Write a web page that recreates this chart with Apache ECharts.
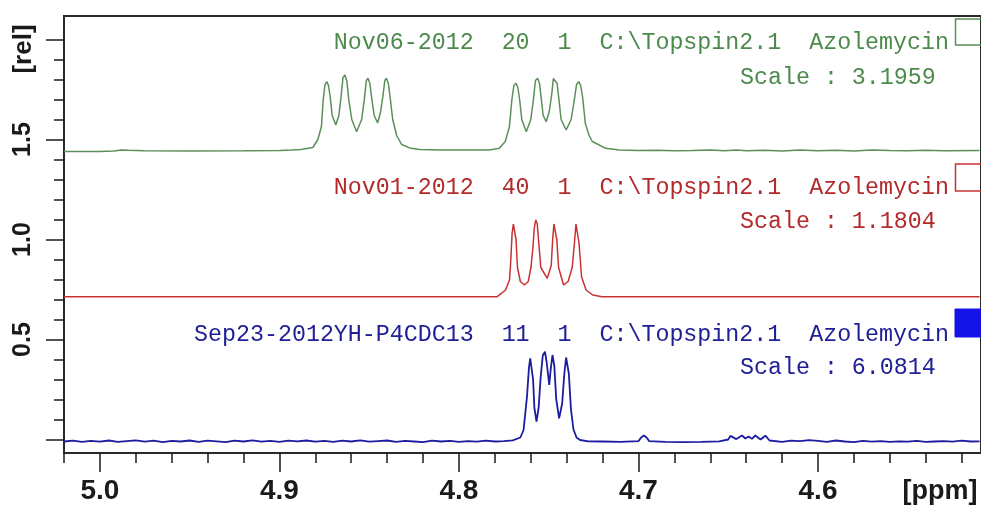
<!DOCTYPE html>
<html><head><meta charset="utf-8">
<script src="https://cdn.jsdelivr.net/npm/echarts@6/dist/echarts.min.js"></script>
<style>html,body{margin:0;padding:0;background:#fff}#c{width:981px;height:506px}</style>
</head><body><div id="c"></div>
<script>
// ---- tick values ----
const xMajorTicks = [5.0, 4.9, 4.8, 4.7, 4.6];
const xMinorTicks = [5.02, 4.98, 4.96, 4.94, 4.92, 4.88, 4.86, 4.84, 4.82, 4.78, 4.76, 4.74, 4.72, 4.68, 4.66, 4.64, 4.62, 4.58, 4.56, 4.54, 4.52];
const yMajorTicks = [0, 0.5, 1.0, 1.5, 2.0];
const yLabelValues = [0.5, 1.0, 1.5];
const yMinorTicks = [0.1, 0.2, 0.3, 0.4, 0.6, 0.7, 0.8, 0.9, 1.1, 1.2, 1.3, 1.4, 1.6, 1.7, 1.8, 1.9];
const xAxisName = '[ppm]';
const yAxisName = '[rel]';

// ---- spectra [ppm, rel] ----
const greenSpectrum = [
 [5.02,1.44],[5.0,1.44],[4.992,1.442],[4.988,1.448],[4.984,1.446],[4.975,1.444],[4.95,1.443],[4.92,1.444],[4.90,1.445],[4.893,1.447],[4.888,1.45],
 [4.8814,1.46],[4.8786,1.5],[4.8766,1.565],[4.8756,1.7],[4.8746,1.775],[4.8735,1.789],[4.8727,1.77],[4.8718,1.72],[4.8706,1.62],[4.8686,1.5725],[4.8669,1.62],[4.8656,1.72],
 [4.8646,1.81],[4.8635,1.8225],[4.8624,1.79],[4.8614,1.7],[4.8597,1.6],[4.857,1.539],[4.8542,1.6],[4.8527,1.7],[4.8516,1.795],[4.8507,1.806],[4.8496,1.78],[4.8485,1.7],[4.8472,1.62],[4.8453,1.5825],
 [4.8436,1.64],[4.8423,1.72],[4.8413,1.795],[4.8404,1.806],[4.8393,1.78],[4.8382,1.7],[4.8369,1.6],[4.8347,1.52],[4.8319,1.475],[4.8275,1.458],[4.8219,1.45],[4.81,1.447],
 [4.79,1.447],[4.7831,1.448],[4.7775,1.456],[4.7742,1.49],[4.7719,1.564],[4.7705,1.7],[4.7694,1.77],[4.7682,1.781],[4.7672,1.76],[4.7662,1.7],[4.765,1.6],[4.7625,1.539],
 [4.76,1.6],[4.7585,1.7],[4.7574,1.795],[4.7562,1.806],[4.7551,1.78],[4.7541,1.7],[4.7531,1.62],[4.7514,1.589],[4.7497,1.64],[4.7484,1.72],[4.7474,1.805],[4.7464,1.814],[4.7453,1.78],[4.7443,1.7],
 [4.7431,1.6],[4.7403,1.5475],[4.7375,1.6],[4.7357,1.7],[4.7345,1.775],[4.7333,1.789],[4.7322,1.77],[4.7311,1.71],[4.7296,1.58],[4.7275,1.52],[4.7257,1.49],[4.7182,1.456],[4.7108,1.447],
 [4.70,1.445],[4.69,1.446],[4.68,1.444],[4.67,1.445],[4.66,1.447],[4.652,1.444],[4.645,1.448],[4.64,1.444],[4.63,1.446],[4.62,1.443],[4.61,1.447],
 [4.60,1.444],[4.59,1.446],[4.58,1.443],[4.57,1.447],[4.56,1.445],[4.55,1.444],[4.54,1.446],[4.53,1.444],[4.51,1.445]
];
const redSpectrum = [
 [5.02,0.714],[4.78,0.714],[4.7787,0.714],[4.774,0.7475],[4.7718,0.8],[4.7711,0.9],[4.7704,1.03],[4.7697,1.0775],[4.7689,1.0775],[4.7682,1.0],[4.7674,0.86],[4.7658,0.79],
 [4.7636,0.7725],[4.7614,0.79],[4.7599,0.86],[4.7588,0.96],[4.7580,1.06],[4.7572,1.0975],[4.7564,1.08],[4.7556,0.99],[4.7544,0.86],[4.7508,0.806],[4.7486,0.87],[4.7478,1.0],
 [4.7471,1.0775],[4.7462,1.0775],[4.7455,1.0],[4.7445,0.86],[4.7417,0.7725],[4.7392,0.79],[4.7369,0.86],[4.7357,0.98],[4.7348,1.0775],[4.7339,1.0775],[4.7331,0.981],[4.7317,0.814],
 [4.7292,0.7475],[4.7255,0.7225],[4.7203,0.714],[4.51,0.714]
];
const blueSpectrum = [
 [5.02,-0.01],[5.015,-0.006],[5.01,-0.012],[5.005,-0.007],[5.0,-0.011],[4.995,-0.005],[4.99,-0.012],[4.985,-0.008],[4.98,-0.004],[4.975,-0.011],
 [4.97,-0.006],[4.965,-0.013],[4.96,-0.007],[4.955,-0.01],[4.95,-0.005],[4.945,-0.012],[4.94,-0.006],[4.935,-0.009],[4.93,-0.013],[4.925,-0.006],
 [4.92,-0.01],[4.915,-0.004],[4.91,-0.011],[4.905,-0.007],[4.9,-0.012],[4.895,-0.006],[4.89,-0.009],[4.885,-0.005],[4.88,-0.011],[4.875,-0.007],
 [4.87,-0.012],[4.865,-0.006],[4.86,-0.01],[4.855,-0.004],[4.85,-0.011],[4.845,-0.008],[4.84,-0.005],[4.835,-0.012],[4.83,-0.007],[4.825,-0.01],
 [4.82,-0.013],[4.815,-0.006],[4.81,-0.01],[4.805,-0.007],[4.8,-0.012],[4.795,-0.008],[4.79,-0.011],[4.785,-0.006],[4.78,-0.01],[4.775,-0.008],
 [4.77,-0.004],[4.7658,0.01],[4.764,0.0475],[4.7621,0.214],[4.761,0.36],[4.7603,0.406],[4.7595,0.4],[4.7587,0.3],[4.758,0.16],[4.7568,0.089],[4.7556,0.16],
 [4.7545,0.31],[4.7533,0.42],[4.7521,0.439],[4.7512,0.39],[4.7497,0.2725],[4.7489,0.35],[4.7479,0.4225],[4.7469,0.37],[4.7458,0.2],[4.7442,0.106],[4.7425,0.18],
 [4.7413,0.33],[4.7403,0.41],[4.7396,0.414],[4.7388,0.33],[4.7376,0.15],[4.7362,0.05],[4.7345,0.01],[4.7325,-0.0025],[4.728,-0.009],[4.72,-0.01],[4.71,-0.012],[4.70,-0.008],
 [4.6985,0.01],[4.697,0.02],[4.6955,0.01],[4.694,-0.008],[4.685,-0.012],[4.675,-0.013],[4.665,-0.012],[4.655,-0.009],[4.65,0.0],[4.6488,0.018],
 [4.6455,0.002],[4.6423,0.02],[4.6405,0.005],[4.6386,0.015],[4.6368,0.003],[4.6349,0.02],[4.632,0.0],[4.6293,0.019],[4.627,-0.005],[4.62,-0.012],
 [4.615,-0.006],[4.61,-0.008],[4.605,-0.003],[4.60,-0.007],[4.595,-0.012],[4.59,-0.005],[4.585,-0.01],[4.58,-0.013],[4.575,-0.007],[4.57,-0.011],
 [4.565,-0.008],[4.56,-0.012],[4.555,-0.009],[4.55,-0.011],[4.545,-0.007],[4.54,-0.012],[4.535,-0.01],[4.53,-0.008],[4.525,-0.011],[4.52,-0.006],
 [4.515,-0.01],[4.51,-0.009]
];
const spectrumTitles = [
 'Nov06-2012  20  1  C:\\Topspin2.1  Azolemycin',
 'Nov01-2012  40  1  C:\\Topspin2.1  Azolemycin',
 'Sep23-2012YH-P4CDC13  11  1  C:\\Topspin2.1  Azolemycin'
];
const scaleTexts = ['Scale : 3.1959', 'Scale : 1.1804', 'Scale : 6.0814'];

const lineColors = ['#5a8f5a', '#c83232', '#1c1ca0'];
const textColors = ['#4c8a4c', '#b22a2a', '#202096'];
const inkColor = '#1a1a1a';

const chart = echarts.init(document.getElementById('c'), null, {renderer: 'canvas'});

const xCommon = {type:'value', min:4.5092, max:5.02, inverse:true, position:'bottom', gridIndex:0,
  axisLine:{show:false, onZero:false}, splitLine:{show:false}};
const yCommon = {type:'value', min:-0.0675, max:2.1175, position:'left', gridIndex:0,
  axisLine:{show:false, onZero:false}, splitLine:{show:false}};

const monoFont = '"Liberation Mono", monospace';
const sansFont = '"Liberation Sans", Arial, sans-serif';
const texts = [];
const titleY = [43, 188, 335];
const scaleY = [78, 222, 368];
for (let i = 0; i < 3; i++) {
  texts.push({type:'text', x:949, y:titleY[i], style:{text:spectrumTitles[i], fill:textColors[i], fontSize:23.3, fontFamily:monoFont, align:'right', verticalAlign:'middle'}});
  texts.push({type:'text', x:740, y:scaleY[i], style:{text:scaleTexts[i], fill:textColors[i], fontSize:23.3, fontFamily:monoFont, align:'left', verticalAlign:'middle'}});
}
const boxY = [19, 164, 309];
texts.push({type:'rect', shape:{x:955.5, y:boxY[0], width:40, height:26}, style:{fill:'none', stroke:lineColors[0], lineWidth:1.5}});
texts.push({type:'rect', shape:{x:955.5, y:boxY[1], width:40, height:27}, style:{fill:'none', stroke:lineColors[1], lineWidth:1.5}});
texts.push({type:'rect', shape:{x:955, y:boxY[2], width:40, height:28}, style:{fill:'#1414e6', stroke:'#1414e6', lineWidth:1}});
texts.push({type:'text', x:24, y:49, rotation:Math.PI/2, style:{text:yAxisName, fill:inkColor, fontSize:26, fontWeight:'bold', fontFamily:sansFont, align:'center', verticalAlign:'middle'}});
texts.push({type:'text', x:940, y:492, style:{text:xAxisName, fill:inkColor, fontSize:27, fontWeight:'bold', fontFamily:sansFont, align:'center', verticalAlign:'middle'}});

const option = {
  animation:false,
  backgroundColor:'#ffffff',
  grid:{left:64, top:16, right:-2, bottom:53, show:true, borderColor:'#2a2a2a', borderWidth:2, backgroundColor:'transparent'},
  xAxis:[
    Object.assign({}, xCommon, {
      axisTick:{show:true, inside:false, length:19, customValues:xMajorTicks, lineStyle:{color:inkColor, width:1.5}},
      axisLabel:{show:true, customValues:xMajorTicks, formatter:(v)=>v.toFixed(1), margin:24, fontSize:28, fontWeight:'bold', fontFamily:sansFont, color:inkColor}
    }),
    Object.assign({}, xCommon, {
      axisTick:{show:true, inside:false, length:10, customValues:xMinorTicks, lineStyle:{color:inkColor, width:1.5}},
      axisLabel:{show:false}
    })
  ],
  yAxis:[
    Object.assign({}, yCommon, {
      axisTick:{show:true, inside:false, length:18, customValues:yMajorTicks, lineStyle:{color:inkColor, width:1.5}},
      axisLabel:{show:true, customValues:yLabelValues, rotate:90, formatter:(v)=>v.toFixed(1), margin:28, fontSize:25, fontWeight:'bold', fontFamily:sansFont, color:inkColor}
    }),
    Object.assign({}, yCommon, {
      axisTick:{show:true, inside:false, length:10, customValues:yMinorTicks, lineStyle:{color:inkColor, width:1.5}},
      axisLabel:{show:false}
    })
  ],
  series:[
    {type:'line', name:'Nov06', data:greenSpectrum, xAxisIndex:0, yAxisIndex:0, showSymbol:false, symbol:'none', lineStyle:{color:lineColors[0], width:1.5}, itemStyle:{color:lineColors[0]}, z:3},
    {type:'line', name:'Nov01', data:redSpectrum, xAxisIndex:0, yAxisIndex:0, showSymbol:false, symbol:'none', lineStyle:{color:lineColors[1], width:1.5}, itemStyle:{color:lineColors[1]}, z:3},
    {type:'line', name:'Sep23', data:blueSpectrum, xAxisIndex:0, yAxisIndex:0, showSymbol:false, symbol:'none', lineStyle:{color:lineColors[2], width:1.8}, itemStyle:{color:lineColors[2]}, z:3}
  ],
  graphic:texts
};
chart.setOption(option);
</script>
</body></html>
